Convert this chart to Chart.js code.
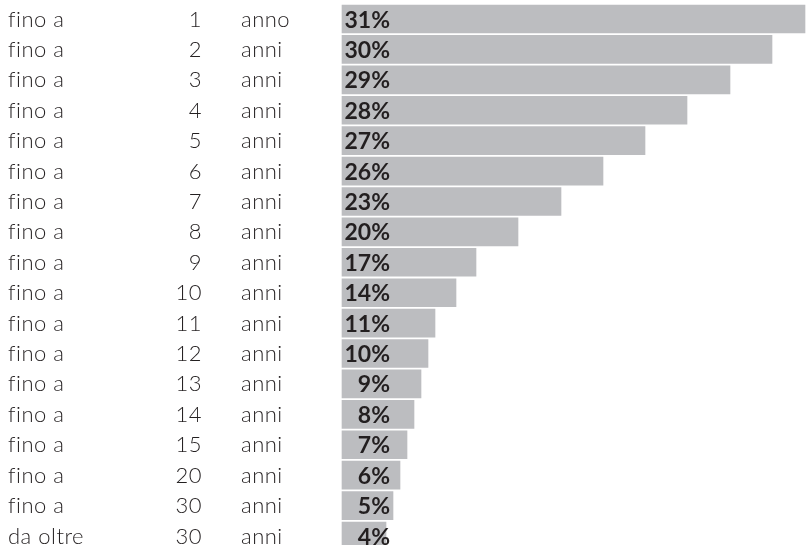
<!DOCTYPE html>
<html>
<head>
<meta charset="utf-8">
<script src="https://cdn.jsdelivr.net/npm/chart.js@4/dist/chart.umd.min.js"></script>
<style>
    html, body { margin: 0; padding: 0; background: #fff; }
    #wrap { width: 808px; height: 545px; position: relative; }
</style>
</head>
<body>
<div id="wrap"><canvas id="durationChart"></canvas></div>
<script>
// Dati
const periodPrefix = ['fino a', 'fino a', 'fino a', 'fino a', 'fino a', 'fino a', 'fino a', 'fino a', 'fino a',
    'fino a', 'fino a', 'fino a', 'fino a', 'fino a', 'fino a', 'fino a', 'fino a', 'da oltre'];
const periodYears = [1, 2, 3, 4, 5, 6, 7, 8, 9, 10, 11, 12, 13, 14, 15, 20, 30, 30];
const periodUnit = ['anno', 'anni', 'anni', 'anni', 'anni', 'anni', 'anni', 'anni', 'anni',
    'anni', 'anni', 'anni', 'anni', 'anni', 'anni', 'anni', 'anni', 'anni'];
const pctLabels = [31, 30, 29, 28, 27, 26, 23, 20, 17, 14, 11, 10, 9, 8, 7, 6, 5, 4];
// lunghezza delle barre (come disegnate, non proporzionali alla percentuale)
const barLengths = [463, 430, 388, 345, 303, 261, 219, 176, 134, 114, 93, 86, 79, 72, 65, 58, 51, 44];
const axisMax = 466;

const categories = periodPrefix.map((p, i) => p + ' ' + periodYears[i] + ' ' + periodUnit[i]);

const textColor = '#231f20';
const barColor = '#bcbdc0';

// Plugin: testo delle righe a sinistra e percentuali sulle barre
const rowTextPlugin = {
    id: 'rowText',
    afterDatasetsDraw: (chart) => {
        const ctx = chart.ctx;
        const yAxis = chart.scales.y;
        const meta = chart.getDatasetMeta(0);

        ctx.save();
        ctx.fillStyle = textColor;
        ctx.textBaseline = 'alphabetic';
        ctx.font = '300 22px Lato';
        ctx.letterSpacing = '0.5px'; // niente legatura "fi"
        categories.forEach((c, i) => {
            const y = yAxis.getPixelForValue(i) + 7.5;
            ctx.textAlign = 'left';
            ctx.fillText(periodPrefix[i], 8, y);
            ctx.textAlign = 'right';
            ctx.fillText(String(periodYears[i]), 202, y);
            ctx.textAlign = 'left';
            ctx.fillText(periodUnit[i], 241, y);
        });

        ctx.font = 'bold 23px Lato';
        ctx.letterSpacing = '0px';
        ctx.textAlign = 'right';
        meta.data.forEach((bar, i) => {
            ctx.fillText(pctLabels[i] + '%', 390, bar.y + 8.5);
        });
        ctx.restore();
    }
};

new Chart(document.getElementById('durationChart').getContext('2d'), {
    type: 'bar',
    data: {
        labels: categories,
        datasets: [{
            data: barLengths,
            backgroundColor: barColor,
            borderWidth: 0,
            barThickness: 28,
            clip: false
        }]
    },
    options: {
        indexAxis: 'y',
        responsive: true,
        maintainAspectRatio: false,
        animation: false,
        layout: {
            padding: { left: 342, right: 0, top: 19, bottom: 9 }
        },
        plugins: {
            legend: { display: false },
            tooltip: { enabled: false }
        },
        scales: {
            x: {
                display: false,
                min: 0,
                max: axisMax
            },
            y: {
                display: false,
                offset: false
            }
        }
    },
    plugins: [rowTextPlugin]
});
</script>
</body>
</html>
